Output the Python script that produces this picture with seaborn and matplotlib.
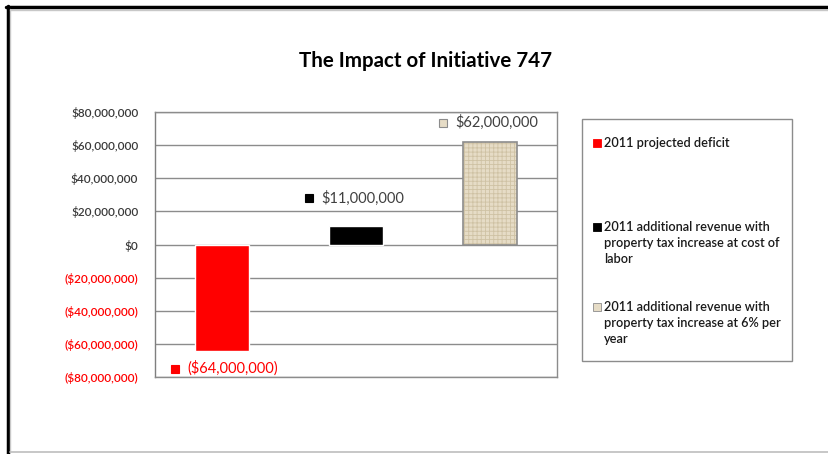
import matplotlib
matplotlib.use("Agg")
import matplotlib.pyplot as plt
import numpy as np
import pandas as pd
import seaborn as sns
from matplotlib.patches import Rectangle
from matplotlib.lines import Line2D
from matplotlib.transforms import offset_copy

# ---------------- data ----------------
categories = [
    "2011 projected deficit",
    "2011 additional revenue with property tax increase at cost of labor",
    "2011 additional revenue with property tax increase at 6% per year",
]
legend_lines = [
    ["2011 projected deficit"],
    ["2011 additional revenue with", "property tax increase at cost of", "labor"],
    ["2011 additional revenue with", "property tax increase at 6% per", "year"],
]
values = [-64_000_000, 11_000_000, 62_000_000]
value_labels = ["($64,000,000)", "$11,000,000", "$62,000,000"]
y_ticks = [-80_000_000, -60_000_000, -40_000_000, -20_000_000, 0,
           20_000_000, 40_000_000, 60_000_000, 80_000_000]
y_tick_labels = ["($80,000,000)", "($60,000,000)", "($40,000,000)", "($20,000,000)", "$0",
                 "$20,000,000", "$40,000,000", "$60,000,000", "$80,000,000"]
title = "The Impact of Initiative 747"

# ---------------- style ----------------
bar_colors = ["#FF0000", "#000000", "#E6DCC6"]
label_colors = ["#FF0000", "#404040", "#404040"]
marker_edges = ["#FF0000", "#000000", "#8C8C8C"]
label_dy = [-18, 28, 19]  # pixel offsets of data labels

sns.set_style("white")
plt.rcParams["font.family"] = ["Lato", "DejaVu Sans"]
plt.rcParams["hatch.linewidth"] = 0.6

W, H = 829, 454
fig = plt.figure(figsize=(W / 100, H / 100), dpi=100)
fig.patch.set_facecolor("white")


def fx(px):
    return px / W


def fy(py):
    return 1 - py / H


ax = fig.add_axes([fx(155), fy(377), fx(557) - fx(155), fy(112) - fy(377)])

df = pd.DataFrame({"category": categories, "value": values})
sns.barplot(data=df, x="category", y="value", hue="category", hue_order=categories,
            order=categories, palette=bar_colors, width=0.4, saturation=1,
            legend=False, ax=ax, zorder=3)

# textured third bar
tan_bar = ax.patches[2]
tan_bar.set_hatch("++++")
tan_bar.set_edgecolor("#CFC2A4")
tan_bar.set_linewidth(0)
x0, y0 = tan_bar.get_xy()
ax.add_patch(Rectangle((x0, y0), tan_bar.get_width(), tan_bar.get_height(),
                       fill=False, edgecolor="#8C8C8C", lw=1.2, zorder=4))

ax.set_ylim(-80_000_000, 80_000_000)
ax.set_xlim(-0.5, 2.5)
ax.set_yticks(y_ticks)
ax.set_yticklabels(y_tick_labels)
ax.set_xticks([])
ax.set_xlabel("")
ax.set_ylabel("")
for t, v in zip(ax.get_yticklabels(), y_ticks):
    t.set_color("#FF0000" if v < 0 else "#3A3A3A")
    t.set_fontsize(8.5)
    t.set_fontweight("semibold")
ax.tick_params(axis="y", direction="inout", length=8, width=1, color="#7F7F7F", pad=8)
ax.yaxis.grid(True, color="#8C8C8C", lw=1)
ax.set_axisbelow(True)
for s in ax.spines.values():
    s.set_visible(True)
    s.set_color("#8C8C8C")
    s.set_linewidth(1)
ax.spines["left"].set_color("#7F7F7F")

# data labels with series keys
for i, (v, lab) in enumerate(zip(values, value_labels)):
    ax.plot([i], [v], marker="s", ms=6, color=bar_colors[i], mec=marker_edges[i], mew=0.8,
            transform=offset_copy(ax.transData, fig=fig, x=-47, y=label_dy[i], units="dots"),
            clip_on=False, zorder=5)
    ax.text(i, v, lab, ha="left", va="center", fontsize=10.5, color=label_colors[i],
            transform=offset_copy(ax.transData, fig=fig, x=-35, y=label_dy[i], units="dots"))

# title
fig.text(fx(426), fy(61), title, ha="center", va="center", fontsize=14.8, fontweight="bold",
         color="#000000")

# legend (manual)
fig.add_artist(Rectangle((fx(582), fy(361)), fx(792) - fx(582), fy(119) - fy(361),
                         transform=fig.transFigure, fill=False, edgecolor="#8C8C8C", lw=1))
legend_y0 = [143, 227, 307]
for k, lines in enumerate(legend_lines):
    fig.add_artist(Rectangle((fx(593), fy(legend_y0[k] + 4)), fx(8), 8 / H,
                             transform=fig.transFigure, facecolor=bar_colors[k],
                             edgecolor=marker_edges[k], lw=0.6))
    for j, line in enumerate(lines):
        fig.text(fx(604), fy(legend_y0[k] + 16 * j), line, ha="left", va="center",
                 fontsize=9.2, fontweight="semibold", color="#1A1A1A")

# chart area frame
fig.add_artist(Line2D([fx(6), 1], [fy(7), fy(7)], transform=fig.transFigure,
                      color="black", lw=2.5))
fig.add_artist(Line2D([fx(8), fx(8)], [fy(6), 0], transform=fig.transFigure,
                      color="black", lw=2.5))
fig.add_artist(Line2D([fx(10), 1], [fy(9.5), fy(9.5)], transform=fig.transFigure,
                      color="#C8C8C8", lw=1))
fig.add_artist(Line2D([fx(10.5), fx(10.5)], [fy(9), fy(452)], transform=fig.transFigure,
                      color="#C8C8C8", lw=1))
fig.add_artist(Line2D([fx(10), 1], [fy(452), fy(452)], transform=fig.transFigure,
                      color="#BEBEBE", lw=1.2))

fig.savefig("out.png", dpi=100, facecolor="white")
